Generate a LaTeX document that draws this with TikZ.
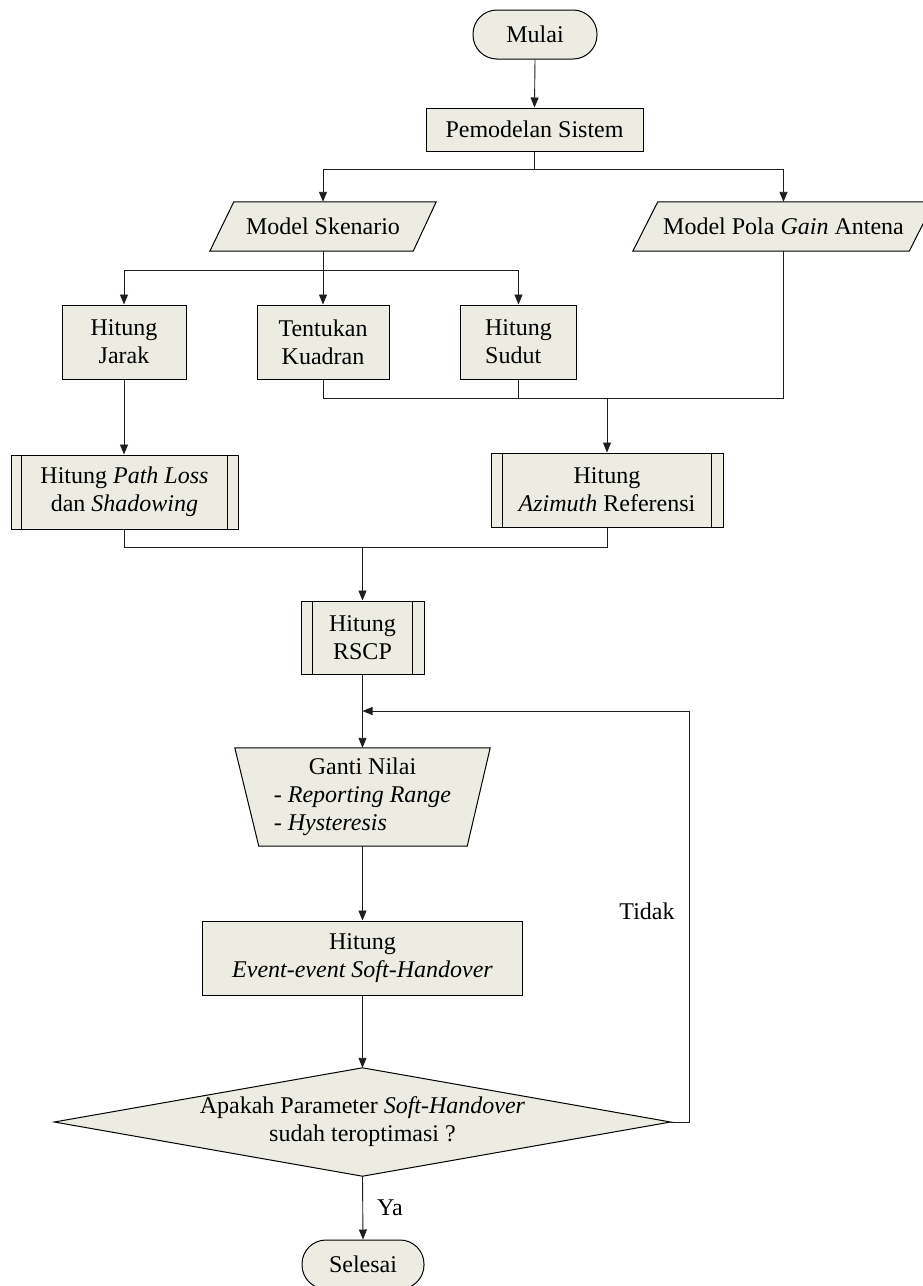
\documentclass[tikz,border=0pt]{standalone}
\usepackage{fontspec}
\setmainfont{Liberation Serif}
\usetikzlibrary{arrows.meta,backgrounds}
\definecolor{boxfill}{RGB}{236,236,226}
\definecolor{conn}{RGB}{30,30,30}
\begin{document}
\begin{tikzpicture}[x=1pt,y=-1pt,
  every node/.style={font=\fontsize{24}{28}\selectfont, inner sep=0pt, align=center},
  procbox/.style={draw=black, fill=boxfill, line width=1pt},
  termbox/.style={draw=black, fill=boxfill, line width=1pt, rounded corners=24pt},
  shapeline/.style={draw=black, fill=boxfill, line width=1pt},
  arr/.style={draw=conn, line width=0.9pt, -{Triangle[length=10pt,width=8pt]}},
  ln/.style={draw=conn, line width=0.9pt}
]
\useasboundingbox (0,0) rectangle (923,1286);

% nodes
\node[termbox, minimum width=124pt, minimum height=49pt] (start) at (535,34.5) {Mulai};
\node[procbox, minimum width=217pt, minimum height=43pt] (sys) at (534.5,129.5) {Pemodelan Sistem};
\node[minimum width=226pt, minimum height=49pt] (skn) at (323,226.5) {Model Skenario};
\node[minimum width=301pt, minimum height=49pt] (pola) at (783.5,226.5) {Model Pola \textit{Gain} Antena};
\node[procbox, minimum width=124pt, minimum height=74pt] (jarak) at (124,342) {Hitung\\Jarak};
\node[procbox, minimum width=132pt, minimum height=74pt] (kuad) at (323,342) {Tentukan\\Kuadran};
\node[procbox, minimum width=116pt, minimum height=74pt, align=left] (sudut) at (518.5,342) {Hitung\\Sudut};
\node[procbox, minimum width=227pt, minimum height=74pt] (pl) at (124.5,492) {Hitung \textit{Path Loss}\\dan \textit{Shadowing}};
\node[procbox, minimum width=232pt, minimum height=74pt] (az) at (607,490) {Hitung\\\textit{Azimuth} Referensi};
\node[procbox, minimum width=123pt, minimum height=73pt] (rscp) at (362.5,637.5) {Hitung\\RSCP};
\node[minimum width=255pt, minimum height=98pt] (ganti) at (362.5,797) {\begin{tabular}{@{}l@{}}\multicolumn{1}{@{}c@{}}{Ganti Nilai}\\- \textit{Reporting Range}\\- \textit{Hysteresis}\end{tabular}};
\node[procbox, minimum width=320pt, minimum height=74pt] (event) at (362.5,958) {Hitung\\\textit{Event-event Soft-Handover}};
\node[minimum width=616pt, minimum height=108pt] (dec) at (362.5,1122) {Apakah Parameter \textit{Soft-Handover}\\sudah teroptimasi ?};
\node[termbox, minimum width=122pt, minimum height=49pt] (stop) at (363,1264.5) {Selesai};
\node (tidak) at (647,911) {Tidak};

% predefined process inner lines
\foreach \n/\d in {pl/11,az/12,rscp/12} {
  \draw[black, line width=1pt] ([xshift=\d pt]\n.north west) -- ([xshift=\d pt]\n.south west);
  \draw[black, line width=1pt] ([xshift=-\d pt]\n.north east) -- ([xshift=-\d pt]\n.south east);
}

% background shapes
\begin{scope}[on background layer]
  \path[shapeline] (skn.south west) -- ([xshift=-23pt]skn.south east) -- (skn.north east) -- ([xshift=24pt]skn.north west) -- cycle;
  \path[shapeline] (pola.south west) -- ([xshift=-25pt]pola.south east) -- (pola.north east) -- ([xshift=25pt]pola.north west) -- cycle;
  \path[shapeline] (ganti.north west) -- (ganti.north east) -- ([xshift=-23pt]ganti.south east) -- ([xshift=24pt]ganti.south west) -- cycle;
  \path[shapeline] (dec.north) -- (dec.east) -- (dec.south) -- (dec.west) -- cycle;
\end{scope}

% connectors
\coordinate (m1) at (607,398);
\coordinate (m2) at (362.5,547);
\coordinate (lr) at (689,711);
\coordinate (li) at (362.5,711);

\draw[arr] (start.south) -- (sys.north);
\draw[arr] (sys.south) -- ++(0,18) -| (skn.north);
\draw[arr] (sys.south) -- ++(0,18) -| (pola.north);
\draw[arr] (skn.south) -- ++(0,19) -| (jarak.north);
\draw[arr] (skn.south) -- (kuad.north);
\draw[arr] (skn.south) -- ++(0,19) -| (sudut.north);
\draw[ln] (kuad.south) |- (m1);
\draw[ln] (sudut.south) -- (sudut.south |- m1);
\draw[ln] (pola.south) |- (m1);
\draw[arr] (m1) -- (az.north);
\draw[arr] (jarak.south) -- (jarak.south |- pl.north);
\draw[ln] (jarak.south |- pl.south) |- (m2);
\draw[ln] (az.south) |- (m2);
\draw[arr] (m2) -- (rscp.north);
\draw[arr] (rscp.south) -- (ganti.north);
\draw[arr] (ganti.south) -- (event.north);
\draw[arr] (event.south) -- (dec.north);
\draw[arr] (dec.south) -- node[midway, anchor=west, xshift=14pt] (ya) {Ya} (stop.north);
\draw[arr] (dec.east) -| (lr) -- (li);
\end{tikzpicture}
\end{document}
